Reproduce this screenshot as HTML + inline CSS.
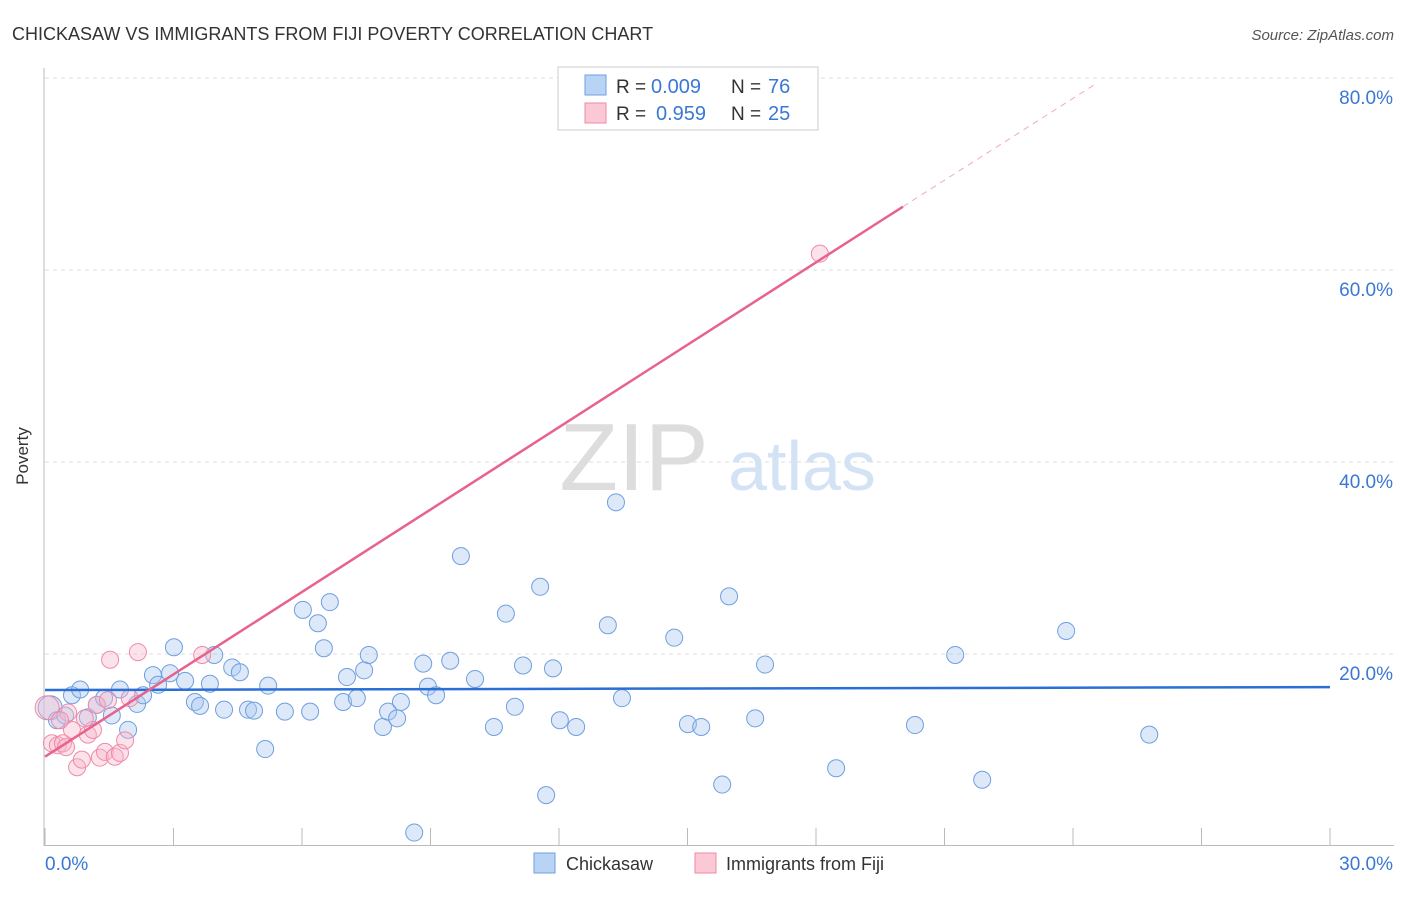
<!DOCTYPE html>
<html><head><meta charset="utf-8"><style>
body{margin:0;background:#fff;font-family:"Liberation Sans",sans-serif}
svg text{font-family:"Liberation Sans",sans-serif}
</style></head><body>
<svg id="c" width="1406" height="892">
<text x="12" y="40" font-size="18" fill="#333">CHICKASAW VS IMMIGRANTS FROM FIJI POVERTY CORRELATION CHART</text>
<text x="1394" y="40" font-size="15" fill="#555" text-anchor="end" font-style="italic">Source: ZipAtlas.com</text>
<g id="grid"></g>
<g><text x="634" y="490" font-size="96" fill="#ddd" text-anchor="middle" font-family="Liberation Serif">ZIP</text><text x="802" y="490" font-size="70" fill="#d3e2f4" text-anchor="middle">atlas</text></g>
<line x1="44" y1="68" x2="44" y2="846" stroke="#bbb"/>
<line x1="44" y1="845.5" x2="1394" y2="845.5" stroke="#bbb"/>
<text x="28" y="456" font-size="17" fill="#333" text-anchor="middle" transform="rotate(-90 28 456)">Poverty</text>
<g id="marks"></g>
<g>
<rect x="558" y="67" width="260" height="63" fill="#fff" stroke="#ccc"/>
<rect x="585" y="75" width="21" height="20" fill="#b9d3f5" stroke="#6e9fe0"/>
<rect x="585" y="103" width="21" height="20" fill="#fbc8d6" stroke="#ef8aa7"/>
<text x="616" y="93" font-size="19" fill="#333">R =</text>
<text x="651" y="93" font-size="20" fill="#3a78d4">0.009</text>
<text x="731" y="93" font-size="19" fill="#333">N =</text>
<text x="768" y="93" font-size="20" fill="#3a78d4">76</text>
<text x="616" y="120" font-size="19" fill="#333">R =</text>
<text x="656" y="120" font-size="20" fill="#3a78d4">0.959</text>
<text x="731" y="120" font-size="19" fill="#333">N =</text>
<text x="768" y="120" font-size="20" fill="#3a78d4">25</text>
</g>
<g>
<rect x="534" y="853" width="21" height="20" fill="#b9d3f5" stroke="#6e9fe0"/>
<text x="566" y="870" font-size="18" fill="#333">Chickasaw</text>
<rect x="695" y="853" width="21" height="20" fill="#fbc8d6" stroke="#ef8aa7"/>
<text x="726" y="870" font-size="18" fill="#333">Immigrants from Fiji</text>
</g>
</svg>
<script>
const blueX=[0.12,0.28,0.47,0.63,0.82,1.00,1.21,1.38,1.56,1.75,1.94,2.15,2.29,2.52,2.64,2.92,3.01,3.27,3.50,3.62,3.85,3.95,4.18,4.37,4.55,4.74,4.88,5.14,5.21,5.60,6.02,6.19,6.37,6.51,6.65,6.96,7.05,7.28,7.45,7.56,7.89,8.01,8.22,8.31,8.62,8.83,8.94,9.13,9.46,9.71,10.04,10.48,10.76,10.97,11.16,11.56,11.70,11.86,12.02,12.40,13.14,13.33,13.47,14.69,15.01,15.32,15.81,15.97,16.58,16.81,18.47,20.31,21.25,21.88,23.84,25.78];
const blueY=[14.4,13.1,13.6,15.7,16.3,13.4,14.7,15.4,13.6,16.3,12.1,14.8,15.7,17.8,16.8,18.0,20.7,17.2,15.0,14.6,16.9,19.9,14.2,18.6,18.1,14.2,14.1,10.1,16.7,14.0,24.6,14.0,23.2,20.6,25.4,15.0,17.6,15.4,18.3,19.9,12.4,14.0,13.3,15.0,1.4,19.0,16.6,15.7,19.3,30.2,17.4,12.4,24.2,14.5,18.8,27.0,5.3,18.5,13.1,12.4,23.0,35.8,15.4,21.7,12.7,12.4,6.4,26.0,13.3,18.9,8.1,12.6,19.9,6.9,22.4,11.6];
const pinkX=[0.05,0.16,0.30,0.42,0.54,0.63,0.75,0.86,1.00,1.12,1.21,1.28,1.40,1.52,1.63,1.75,1.87,1.98,2.17,3.67,18.09,0.35,0.93,0.49,1.47];
const pinkY=[14.4,10.7,10.5,10.7,13.9,12.1,8.2,9.0,11.6,12.1,14.7,9.2,9.8,19.4,9.3,9.7,11.0,15.4,20.2,19.9,61.7,13.1,13.3,10.3,15.2];
const yTicks=[20,40,60,80];
const xTickLabels=["0.0%","30.0%"];
const blueTrend=[[0,16.25],[30,16.55]];
const pinkTrend=[[0,9.3],[20.03,66.6]];
const pinkDash=[[20.03,66.6],[24.5,79.3]];
const X=v=>45+v/30*1285, Y=v=>846-v*9.6;
const NS="http://www.w3.org/2000/svg";
function mk(t,a,p){const e=document.createElementNS(NS,t);for(const k in a)e.setAttribute(k,a[k]);p.appendChild(e);return e;}
const grid=document.getElementById('grid'), marks=document.getElementById('marks');
yTicks.forEach(t=>{
 const l=mk('line',{x1:45,x2:1394,y1:Y(t),y2:Y(t),stroke:'#ddd','stroke-dasharray':'4,4'},grid);
 
 
 const tx=mk('text',{x:1393,y:Y(t)+26,'font-size':19,fill:'#3a78d4','text-anchor':'end'},grid);
 tx.textContent=t.toFixed(1)+'%';
 
 
});
for(let i=0;i<=10;i++){const l=mk('line',{x1:X(i*3),x2:X(i*3),y1:828,y2:846,stroke:'#bbb'},grid);
 
 }
[[0,'start',45],[1,'end',1393]].forEach(([i,a,x])=>{const t=mk('text',{x:x,y:870,'font-size':19,fill:'#3a78d4','text-anchor':a},grid);t.textContent=xTickLabels[i];
 
 });
blueX.forEach((v,i)=>{const c=mk('circle',{cx:X(v),cy:Y(blueY[i]),r:i==0?12:8.5,fill:'rgba(170,200,240,0.4)',stroke:'#6e9fe0','stroke-width':1},marks);
 
 });
pinkX.forEach((v,i)=>{const c=mk('circle',{cx:X(v),cy:Y(pinkY[i]),r:i==0?12:8.5,fill:'rgba(248,185,205,0.4)',stroke:'#ef8aa7','stroke-width':1},marks);
 
 });
let l=mk('line',{x1:X(blueTrend[0][0]),y1:Y(blueTrend[0][1]),x2:X(blueTrend[1][0]),y2:Y(blueTrend[1][1]),stroke:'#2a6fd6','stroke-width':2.5},marks);


l=mk('line',{x1:X(pinkTrend[0][0]),y1:Y(pinkTrend[0][1]),x2:X(pinkTrend[1][0]),y2:Y(pinkTrend[1][1]),stroke:'#e8628e','stroke-width':2.5},marks);


l=mk('line',{x1:X(pinkDash[0][0]),y1:Y(pinkDash[0][1]),x2:X(pinkDash[1][0]),y2:Y(pinkDash[1][1]),stroke:'#eeaabf','stroke-width':1,'stroke-dasharray':'6,5'},marks);


</script>
</body></html>
